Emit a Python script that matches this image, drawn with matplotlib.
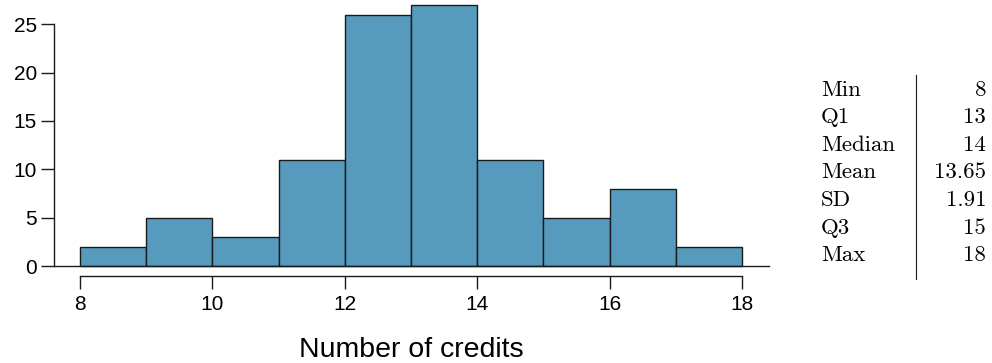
import matplotlib
matplotlib.use("Agg")
import matplotlib.pyplot as plt
from matplotlib.lines import Line2D

# histogram data (bin edges and counts)
bin_edges = [8, 9, 10, 11, 12, 13, 14, 15, 16, 17, 18]
counts = [2, 5, 3, 11, 26, 27, 11, 5, 8, 2]
x_ticks = [8, 10, 12, 14, 16, 18]
y_ticks = [0, 5, 10, 15, 20, 25]

# summary table
stat_names = ["Min", "Q1", "Median", "Mean", "SD", "Q3", "Max"]
stat_values = ["8", "13", "14", "13.65", "1.91", "15", "18"]

W, H = 992, 363
fig = plt.figure(figsize=(W / 100, H / 100), dpi=100)
plt.rcParams['font.family'] = ['Liberation Sans', 'DejaVu Sans']

ax = fig.add_axes([54 / W, 1 - 266 / H, (769 - 54) / W, (266 - 5) / H])
ax.bar(bin_edges[:-1], counts, width=1, align='edge', color='#569BBD',
       edgecolor='#1a1a1a', linewidth=1.0, clip_on=False, zorder=2)
ax.axhline(0, color='#1a1a1a', lw=1.0, zorder=3, clip_on=False)

ax.set_xlim(7.607, 18.408)
ax.set_ylim(0, 27)

for s in ['top', 'right']:
    ax.spines[s].set_visible(False)
ax.spines['left'].set_bounds(0, 25)
ax.spines['bottom'].set_bounds(8, 18)
ax.spines['bottom'].set_position(('outward', 7.2))
for s in ['left', 'bottom']:
    ax.spines[s].set_linewidth(1.0)
    ax.spines[s].set_color('#1a1a1a')

ax.set_xticks(x_ticks)
ax.set_yticks(y_ticks)
ax.tick_params(axis='both', labelsize=15, length=9.4, width=1.0,
               color='#1a1a1a', pad=4)
ax.tick_params(axis='y', pad=3)

fig.text(411.5 / W, 1 - 357 / H, "Number of credits", fontsize=20.5,
         ha='center', va='baseline')

# summary statistics table
row_top = 95.5
row_step = 27.6
for i, (name, val) in enumerate(zip(stat_names, stat_values)):
    yb = 1 - (row_top + i * row_step) / H
    fig.text(821 / W, yb, name, family='cmr10', fontsize=16.5,
             ha='left', va='baseline')
    fig.text(986 / W, yb, val, family='cmr10', fontsize=16.5,
             ha='right', va='baseline')
fig.add_artist(Line2D([916 / W, 916 / W], [1 - 75 / H, 1 - 279 / H],
                      color='#1a1a1a', lw=0.8))

fig.savefig("out.png", dpi=100)
